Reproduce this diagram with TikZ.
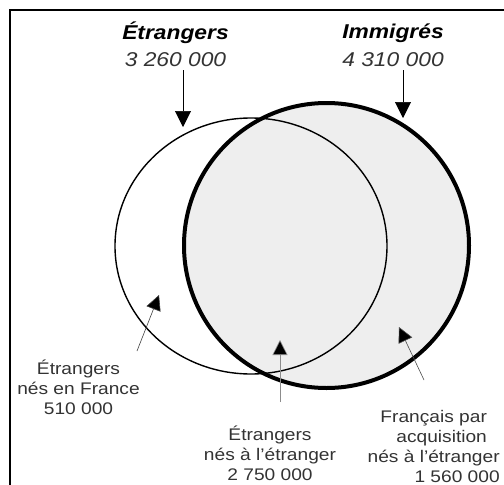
\documentclass[tikz,border=0pt]{standalone}
\usepackage{fontspec}
\setmainfont{Liberation Sans}[FakeStretch=1.14]
\usepackage{tikz}
\usetikzlibrary{arrows.meta,positioning,calc}
\definecolor{setfill}{HTML}{EEEEEE}
\tikzset{lbl/.style={align=center,text=black!80,inner sep=0pt,font=\fontsize{16.8}{20}\selectfont}}

\begin{document}
\begin{tikzpicture}[x=1pt, y=-1pt, ->, >={Triangle[width=16pt,length=16pt]}, semithick]
\tikzstyle{ttl}=[inner sep=0pt,font=\fontsize{20}{24}\selectfont\bfseries\itshape]
\tikzstyle{num}=[inner sep=0pt,text=black!80,font=\fontsize{20}{24}\selectfont\itshape]
    \useasboundingbox (0,0) rectangle (504,485);
    % frame
    \draw[-, line width=2pt] (10,490) -- (10,10) -- (510,10);
    % the two sets
    \fill[setfill] (326.5,245.5) circle (142.5);
    \draw[-, line width=1.4pt] (251,246) ellipse (136 and 128);
    \draw[-, line width=4pt] (326.5,245.5) circle (142.5);
    % titles
    \node[ttl] (etr) at (175.5,33) {Étrangers};
    \node[num] (etrN) at (175.5,60) {3 260 000};
    \node[ttl] (imm) at (393,33) {Immigrés};
    \node[num] (immN) at (393,60) {4 310 000};
    \coordinate (etrTip) at (183,127);
    \coordinate (immTip) at (403,118);
    \draw ([yshift=-3pt]etrN.south -| etrTip) -- (etrTip);
    \draw ([yshift=-3pt]immN.south -| immTip) -- (immTip);
    % parts
    \node[lbl] (fr) at (78.5,387.2) {Étrangers\\nés en France\\510 000};
    \node[lbl] (mid) at (270,453.5) {Étrangers\\nés à l’étranger\\2 750 000};
    \node[lbl, anchor=east] (acq) at (500,446.5) {Français par\\\hfill acquisition\\nés à l’étranger\\\hfill 1 560 000};
    \coordinate (frTail) at (137,351);
    \coordinate (frTip) at (159,295);
    \coordinate (midTail) at (280,402);
    \coordinate (midTip) at (280,340);
    \coordinate (acqTail) at (424,380);
    \coordinate (acqTip) at (399,327);
    \draw[black!75, -{Triangle[width=15pt,length=15pt,fill=black]}] (frTail) -- (frTip);
    \draw[black!45, -{Triangle[width=15pt,length=15pt,fill=black]}] (midTail) -- (midTip);
    \draw[black!70, -{Triangle[width=15pt,length=15pt,fill=black]}] (acqTail) -- (acqTip);
\end{tikzpicture}
\end{document}
